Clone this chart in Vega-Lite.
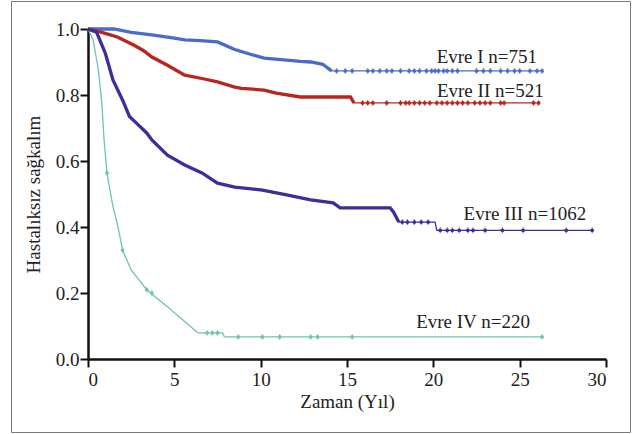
{
  "$schema": "https://vega.github.io/schema/vega-lite/v6.json",
  "autosize": "none",
  "padding": {"left": 11, "top": 1, "right": 12, "bottom": 2},
  "width": 619,
  "height": 431,
  "background": "white",
  "config": {
    "font": "Liberation Serif, Times New Roman, serif",
    "view": {"stroke": "#7a7a7a", "strokeWidth": 1},
    "axis": {
      "grid": false,
      "domainColor": "#111",
      "domainWidth": 2.5,
      "tickColor": "#111",
      "tickWidth": 2,
      "tickSize": 8,
      "labelFont": "Liberation Serif, Times New Roman, serif",
      "labelFontSize": 19,
      "labelColor": "#222",
      "titleFont": "Liberation Serif, Times New Roman, serif",
      "titleFontSize": 19,
      "titleFontWeight": "normal",
      "titleColor": "#222"
    }
  },
  "datasets": {
    "curves": [
      {"series": "Evre I", "t": 0, "s": 1.0},
      {"series": "Evre I", "t": 1.5, "s": 1.0},
      {"series": "Evre I", "t": 2.5, "s": 0.99},
      {"series": "Evre I", "t": 3.7, "s": 0.982},
      {"series": "Evre I", "t": 5.0, "s": 0.972},
      {"series": "Evre I", "t": 5.6, "s": 0.967},
      {"series": "Evre I", "t": 6.5, "s": 0.965},
      {"series": "Evre I", "t": 7.5, "s": 0.961},
      {"series": "Evre I", "t": 8.5, "s": 0.938},
      {"series": "Evre I", "t": 9.5, "s": 0.922},
      {"series": "Evre I", "t": 10.2, "s": 0.912},
      {"series": "Evre I", "t": 11.5, "s": 0.906},
      {"series": "Evre I", "t": 12.3, "s": 0.902},
      {"series": "Evre I", "t": 12.9, "s": 0.9},
      {"series": "Evre I", "t": 13.6, "s": 0.893},
      {"series": "Evre I", "t": 14.1, "s": 0.873},
      {"series": "Evre I", "t": 26.3, "s": 0.873},
      {"series": "Evre II", "t": 0, "s": 1.0},
      {"series": "Evre II", "t": 0.8, "s": 0.99},
      {"series": "Evre II", "t": 1.7, "s": 0.976},
      {"series": "Evre II", "t": 2.7, "s": 0.95},
      {"series": "Evre II", "t": 3.2, "s": 0.935},
      {"series": "Evre II", "t": 3.7, "s": 0.915},
      {"series": "Evre II", "t": 4.6, "s": 0.89},
      {"series": "Evre II", "t": 5.6, "s": 0.86},
      {"series": "Evre II", "t": 6.6, "s": 0.85},
      {"series": "Evre II", "t": 7.5, "s": 0.84},
      {"series": "Evre II", "t": 8.5, "s": 0.824},
      {"series": "Evre II", "t": 8.9, "s": 0.82},
      {"series": "Evre II", "t": 10.2, "s": 0.815},
      {"series": "Evre II", "t": 10.9, "s": 0.806},
      {"series": "Evre II", "t": 12.3, "s": 0.794},
      {"series": "Evre II", "t": 15.2, "s": 0.794},
      {"series": "Evre II", "t": 15.4, "s": 0.776},
      {"series": "Evre II", "t": 26.1, "s": 0.776},
      {"series": "Evre III", "t": 0, "s": 1.0},
      {"series": "Evre III", "t": 0.5, "s": 0.99},
      {"series": "Evre III", "t": 1.0, "s": 0.927},
      {"series": "Evre III", "t": 1.45, "s": 0.845},
      {"series": "Evre III", "t": 2.0, "s": 0.785},
      {"series": "Evre III", "t": 2.4, "s": 0.735},
      {"series": "Evre III", "t": 2.7, "s": 0.72},
      {"series": "Evre III", "t": 3.4, "s": 0.685},
      {"series": "Evre III", "t": 3.7, "s": 0.664},
      {"series": "Evre III", "t": 4.6, "s": 0.618},
      {"series": "Evre III", "t": 5.6, "s": 0.588},
      {"series": "Evre III", "t": 6.6, "s": 0.564},
      {"series": "Evre III", "t": 7.5, "s": 0.533},
      {"series": "Evre III", "t": 8.5, "s": 0.521},
      {"series": "Evre III", "t": 10.1, "s": 0.512},
      {"series": "Evre III", "t": 11.5, "s": 0.497},
      {"series": "Evre III", "t": 12.9, "s": 0.482},
      {"series": "Evre III", "t": 14.2, "s": 0.473},
      {"series": "Evre III", "t": 14.6, "s": 0.458},
      {"series": "Evre III", "t": 17.5, "s": 0.458},
      {"series": "Evre III", "t": 17.7, "s": 0.445},
      {"series": "Evre III", "t": 18.0, "s": 0.415},
      {"series": "Evre III", "t": 20.1, "s": 0.415},
      {"series": "Evre III", "t": 20.2, "s": 0.39},
      {"series": "Evre III", "t": 29.2, "s": 0.39},
      {"series": "Evre IV", "t": 0, "s": 1.0},
      {"series": "Evre IV", "t": 0.3, "s": 0.967},
      {"series": "Evre IV", "t": 0.6, "s": 0.876},
      {"series": "Evre IV", "t": 0.8, "s": 0.776},
      {"series": "Evre IV", "t": 0.93, "s": 0.664},
      {"series": "Evre IV", "t": 1.1, "s": 0.564},
      {"series": "Evre IV", "t": 1.27, "s": 0.512},
      {"series": "Evre IV", "t": 1.45, "s": 0.46},
      {"series": "Evre IV", "t": 1.74, "s": 0.4},
      {"series": "Evre IV", "t": 2.0, "s": 0.33},
      {"series": "Evre IV", "t": 2.5, "s": 0.27},
      {"series": "Evre IV", "t": 3.4, "s": 0.21},
      {"series": "Evre IV", "t": 4.6, "s": 0.158},
      {"series": "Evre IV", "t": 5.5, "s": 0.118},
      {"series": "Evre IV", "t": 6.3, "s": 0.082},
      {"series": "Evre IV", "t": 6.4, "s": 0.079},
      {"series": "Evre IV", "t": 7.8, "s": 0.079},
      {"series": "Evre IV", "t": 7.9, "s": 0.067},
      {"series": "Evre IV", "t": 26.3, "s": 0.067}
    ],
    "censor": [
      {"series": "Evre I", "t": 14.4, "s": 0.873},
      {"series": "Evre I", "t": 14.9, "s": 0.873},
      {"series": "Evre I", "t": 15.3, "s": 0.873},
      {"series": "Evre I", "t": 16.2, "s": 0.873},
      {"series": "Evre I", "t": 16.5, "s": 0.873},
      {"series": "Evre I", "t": 16.9, "s": 0.873},
      {"series": "Evre I", "t": 17.3, "s": 0.873},
      {"series": "Evre I", "t": 17.6, "s": 0.873},
      {"series": "Evre I", "t": 18.1, "s": 0.873},
      {"series": "Evre I", "t": 18.6, "s": 0.873},
      {"series": "Evre I", "t": 18.9, "s": 0.873},
      {"series": "Evre I", "t": 19.2, "s": 0.873},
      {"series": "Evre I", "t": 19.6, "s": 0.873},
      {"series": "Evre I", "t": 19.9, "s": 0.873},
      {"series": "Evre I", "t": 20.1, "s": 0.873},
      {"series": "Evre I", "t": 20.3, "s": 0.873},
      {"series": "Evre I", "t": 20.6, "s": 0.873},
      {"series": "Evre I", "t": 20.8, "s": 0.873},
      {"series": "Evre I", "t": 21.1, "s": 0.873},
      {"series": "Evre I", "t": 21.4, "s": 0.873},
      {"series": "Evre I", "t": 22.5, "s": 0.873},
      {"series": "Evre I", "t": 22.9, "s": 0.873},
      {"series": "Evre I", "t": 23.3, "s": 0.873},
      {"series": "Evre I", "t": 23.9, "s": 0.873},
      {"series": "Evre I", "t": 24.3, "s": 0.873},
      {"series": "Evre I", "t": 24.7, "s": 0.873},
      {"series": "Evre I", "t": 25.0, "s": 0.873},
      {"series": "Evre I", "t": 25.6, "s": 0.873},
      {"series": "Evre I", "t": 26.0, "s": 0.873},
      {"series": "Evre I", "t": 26.3, "s": 0.873},
      {"series": "Evre II", "t": 15.9, "s": 0.776},
      {"series": "Evre II", "t": 16.2, "s": 0.776},
      {"series": "Evre II", "t": 16.5, "s": 0.776},
      {"series": "Evre II", "t": 17.3, "s": 0.776},
      {"series": "Evre II", "t": 18.1, "s": 0.776},
      {"series": "Evre II", "t": 18.4, "s": 0.776},
      {"series": "Evre II", "t": 18.6, "s": 0.776},
      {"series": "Evre II", "t": 18.9, "s": 0.776},
      {"series": "Evre II", "t": 19.2, "s": 0.776},
      {"series": "Evre II", "t": 19.5, "s": 0.776},
      {"series": "Evre II", "t": 19.8, "s": 0.776},
      {"series": "Evre II", "t": 20.2, "s": 0.776},
      {"series": "Evre II", "t": 20.5, "s": 0.776},
      {"series": "Evre II", "t": 20.8, "s": 0.776},
      {"series": "Evre II", "t": 21.1, "s": 0.776},
      {"series": "Evre II", "t": 21.4, "s": 0.776},
      {"series": "Evre II", "t": 21.7, "s": 0.776},
      {"series": "Evre II", "t": 22.0, "s": 0.776},
      {"series": "Evre II", "t": 22.4, "s": 0.776},
      {"series": "Evre II", "t": 22.7, "s": 0.776},
      {"series": "Evre II", "t": 23.0, "s": 0.776},
      {"series": "Evre II", "t": 23.3, "s": 0.776},
      {"series": "Evre II", "t": 23.9, "s": 0.776},
      {"series": "Evre II", "t": 24.1, "s": 0.776},
      {"series": "Evre II", "t": 25.8, "s": 0.776},
      {"series": "Evre II", "t": 26.1, "s": 0.776},
      {"series": "Evre III", "t": 18.2, "s": 0.415},
      {"series": "Evre III", "t": 18.5, "s": 0.415},
      {"series": "Evre III", "t": 18.9, "s": 0.415},
      {"series": "Evre III", "t": 19.3, "s": 0.415},
      {"series": "Evre III", "t": 19.7, "s": 0.415},
      {"series": "Evre III", "t": 20.4, "s": 0.39},
      {"series": "Evre III", "t": 20.8, "s": 0.39},
      {"series": "Evre III", "t": 21.1, "s": 0.39},
      {"series": "Evre III", "t": 21.5, "s": 0.39},
      {"series": "Evre III", "t": 22.0, "s": 0.39},
      {"series": "Evre III", "t": 22.3, "s": 0.39},
      {"series": "Evre III", "t": 23.0, "s": 0.39},
      {"series": "Evre III", "t": 24.0, "s": 0.39},
      {"series": "Evre III", "t": 25.2, "s": 0.39},
      {"series": "Evre III", "t": 27.7, "s": 0.39},
      {"series": "Evre III", "t": 29.2, "s": 0.39},
      {"series": "Evre IV", "t": 1.1, "s": 0.564},
      {"series": "Evre IV", "t": 2.0, "s": 0.33},
      {"series": "Evre IV", "t": 3.4, "s": 0.21},
      {"series": "Evre IV", "t": 3.7, "s": 0.2},
      {"series": "Evre IV", "t": 6.9, "s": 0.079},
      {"series": "Evre IV", "t": 7.2, "s": 0.079},
      {"series": "Evre IV", "t": 7.5, "s": 0.079},
      {"series": "Evre IV", "t": 8.7, "s": 0.067},
      {"series": "Evre IV", "t": 10.1, "s": 0.067},
      {"series": "Evre IV", "t": 11.1, "s": 0.067},
      {"series": "Evre IV", "t": 12.9, "s": 0.067},
      {"series": "Evre IV", "t": 13.3, "s": 0.067},
      {"series": "Evre IV", "t": 15.3, "s": 0.067},
      {"series": "Evre IV", "t": 26.3, "s": 0.067}
    ],
    "labels": [
      {"series": "Evre I", "label": "Evre I n=751", "t": 23.1, "s": 0.897},
      {"series": "Evre II", "label": "Evre II n=521", "t": 23.3, "s": 0.794},
      {"series": "Evre III", "label": "Evre III n=1062", "t": 25.3, "s": 0.421},
      {"series": "Evre IV", "label": "Evre IV n=220", "t": 22.3, "s": 0.094}
    ]
  },
  "encoding": {
    "x": {
      "field": "t",
      "type": "quantitative",
      "scale": {"domain": [0, 30], "range": [77, 595], "nice": false, "zero": false},
      "axis": {
        "title": "Zaman (Yıl)",
        "values": [0, 5, 10, 15, 20, 25, 30],
        "offset": -73,
        "labelPadding": 3,
        "titlePadding": 3
      }
    },
    "y": {
      "field": "s",
      "type": "quantitative",
      "scale": {"domain": [0, 1], "range": [358, 28], "nice": false, "zero": false},
      "axis": {
        "title": "Hastalıksız sağkalım",
        "values": [0, 0.2, 0.4, 0.6, 0.8, 1.0],
        "format": ".1f",
        "offset": -77,
        "labelPadding": 1,
        "titlePadding": 12
      }
    },
    "color": {
      "field": "series",
      "type": "nominal",
      "scale": {
        "domain": ["Evre I", "Evre II", "Evre III", "Evre IV"],
        "range": ["#4a6cc8", "#b8251f", "#3b2f9a", "#6fc4b2"]
      },
      "legend": null
    }
  },
  "layer": [
    {
      "data": {"name": "curves"},
      "mark": {"type": "line", "strokeWidth": 1.3}
    },
    {
      "data": {"name": "curves"},
      "transform": [
        {"filter": "(datum.series == 'Evre I' && datum.t <= 14.1) || (datum.series == 'Evre II' && datum.t <= 15.4) || (datum.series == 'Evre III' && datum.t <= 18.0)"}
      ],
      "mark": {"type": "line", "strokeWidth": 3.3}
    },
    {
      "data": {"name": "censor"},
      "mark": {"type": "point", "filled": true, "size": 14, "opacity": 1}
    },
    {
      "data": {"name": "censor"},
      "mark": {"type": "tick", "orient": "vertical", "size": 6, "thickness": 1}
    },
    {
      "data": {"name": "labels"},
      "mark": {"type": "text", "align": "center", "baseline": "alphabetic", "fontSize": 19, "font": "Liberation Serif, Times New Roman, serif"},
      "encoding": {
        "text": {"field": "label"},
        "color": {"value": "#222"}
      }
    }
  ]
}
